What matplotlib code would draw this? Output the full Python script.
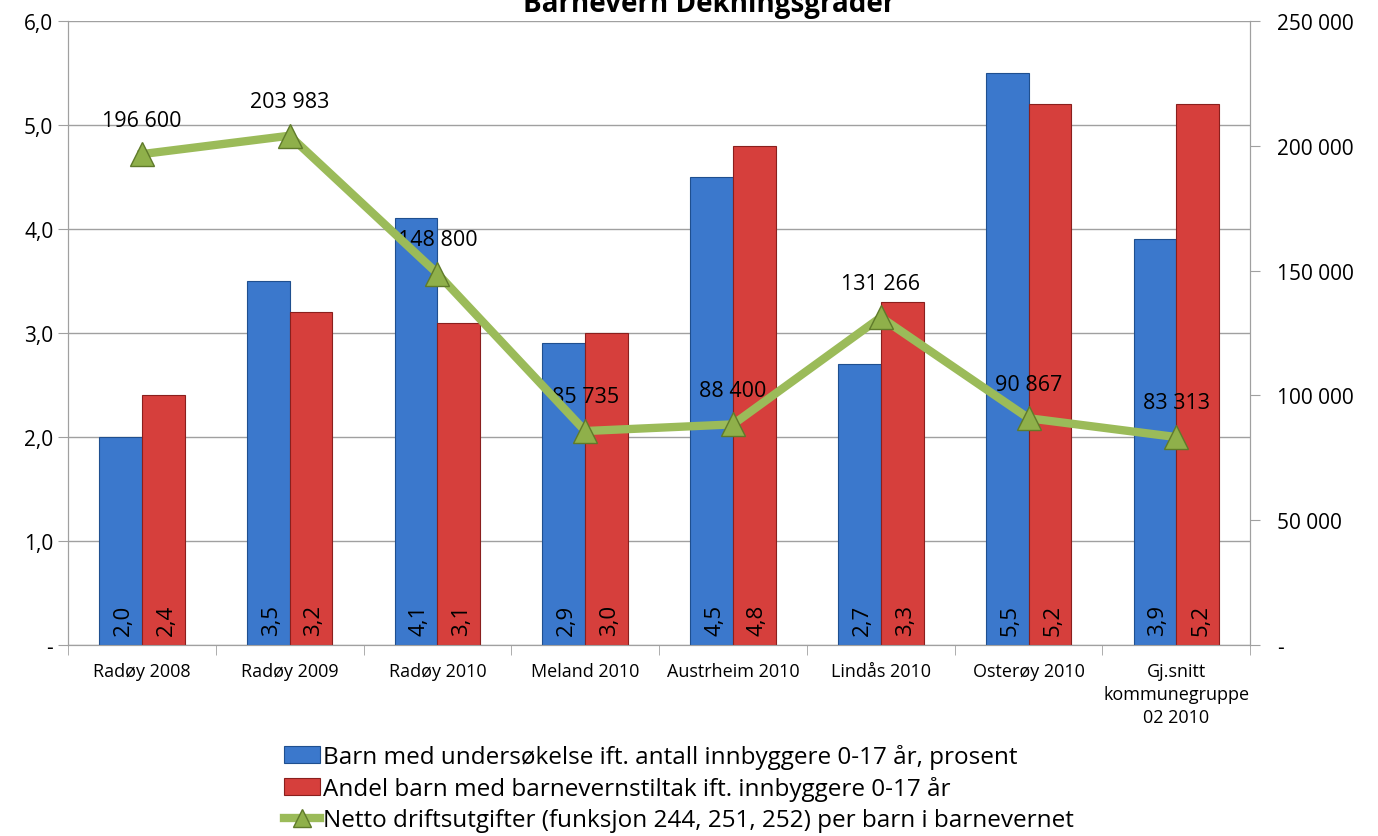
import matplotlib.pyplot as plt
import numpy as np

categories = ["Radøy 2008", "Radøy 2009", "Radøy 2010", "Meland 2010", "Austrheim 2010",
              "Lindås 2010", "Osterøy 2010", "Gj.snitt\nkommunegruppe\n02 2010"]
undersokelse = [2.0, 3.5, 4.1, 2.9, 4.5, 2.7, 5.5, 3.9]
tiltak = [2.4, 3.2, 3.1, 3.0, 4.8, 3.3, 5.2, 5.2]
driftsutgifter = [196600, 203983, 148800, 85735, 88400, 131266, 90867, 83313]

lbl_blue = "Barn med undersøkelse ift. antall innbyggere 0-17 år, prosent"
lbl_red = "Andel barn med barnevernstiltak ift. innbyggere 0-17 år"
lbl_line = "Netto driftsutgifter (funksjon 244, 251, 252) per barn i barnevernet"

plt.rcParams["font.family"] = ["Open Sans", "DejaVu Sans"]

fig = plt.figure(figsize=(13.78, 8.37), dpi=100)
ax = fig.add_axes([0.0493, 0.228, 0.858, 0.746])
ax2 = ax.twinx()

x = np.arange(len(categories))
w = 0.29
b1 = ax.bar(x - w / 2, undersokelse, w, color="#3b78cc", edgecolor="#1f4f8f", linewidth=0.8, zorder=3, label=lbl_blue)
b2 = ax.bar(x + w / 2, tiltak, w, color="#d63f3c", edgecolor="#8a1f1d", linewidth=0.8, zorder=3, label=lbl_red)

for xi, v in zip(x - w / 2, undersokelse):
    ax.text(xi + 0.02, 0.1, f"{v:.1f}".replace(".", ","), rotation=90, ha="center", va="bottom", fontsize=16, zorder=4)
for xi, v in zip(x + w / 2, tiltak):
    ax.text(xi + 0.02, 0.1, f"{v:.1f}".replace(".", ","), rotation=90, ha="center", va="bottom", fontsize=16, zorder=4)

ln, = ax2.plot(x, driftsutgifter, color="#9bbb59", lw=6, marker="^", ms=17,
               mfc="#8fb04a", mec="#5f7a2a", mew=1, zorder=5, label=lbl_line)
for xi, v in zip(x, driftsutgifter):
    ax2.annotate(f"{v:,}".replace(",", " "), (xi, v), xytext=(0, 17), textcoords="offset points",
                 ha="center", va="bottom", fontsize=15.5)

ax.set_xlim(-0.5, len(categories) - 0.5)
ax.set_ylim(0, 6)
ax2.set_ylim(0, 250000)
ax.set_yticks(np.arange(0, 7, 1))
ax.set_yticklabels(["-"] + [f"{v},0" for v in range(1, 7)], fontsize=15)
ax2.set_yticks(np.arange(0, 250001, 50000))
ax2.set_yticklabels(["-"] + [f"{v:,}".replace(",", " ") for v in range(50000, 250001, 50000)], fontsize=15)
ax.set_xticks(x)
ax.set_xticklabels(categories, fontsize=13, linespacing=1.35)
ax.set_xticks(np.arange(-0.5, len(categories), 1), minor=True)
ax.tick_params(axis="x", which="major", length=0, pad=12)
ax.tick_params(axis="x", which="minor", length=7, color="#a0a0a0")
ax.tick_params(axis="y", length=7, color="#a0a0a0")
ax2.tick_params(axis="y", length=7, color="#a0a0a0", pad=12)
ax.grid(axis="y", color="#a0a0a0", lw=1, zorder=0)
ax.set_axisbelow(True)
for a in (ax, ax2):
    a.spines["top"].set_visible(False)
    for s in ("left", "right", "bottom"):
        a.spines[s].set_color("#a0a0a0")

# title sits partly above the canvas, as in the source image
fig.text(0.515, 0.995, "Barnevern Dekningsgrader", ha="center", va="center", fontsize=20, fontweight="bold")

fig.legend(handles=[b1, b2, ln], loc="upper left", bbox_to_anchor=(0.197, 0.125), frameon=False,
           fontsize=17.5, handlelength=1.5, handletextpad=0.1, labelspacing=0.3, borderpad=0,
           markerscale=0.8)

fig.savefig("out.png", dpi=100)
